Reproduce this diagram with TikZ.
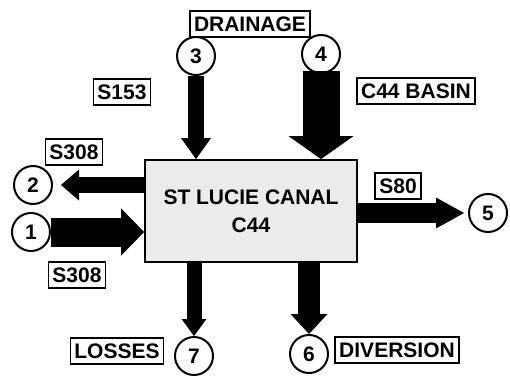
\documentclass[tikz,border=0pt]{standalone}
\usepackage{fontspec}
\setmainfont{Liberation Sans}
\usetikzlibrary{positioning, calc, arrows.meta}

\tikzset{
    lbl/.style={draw, line width=1.8pt, inner xsep=4pt, inner ysep=5.5pt,
        text height=14.5pt, text depth=0pt, font=\bfseries\fontsize{21}{22}\selectfont},
    num/.style={draw, circle, line width=2pt, minimum size=38pt, inner sep=0pt,
        fill=white, font=\bfseries\fontsize{21}{22}\selectfont},
    canal/.style={draw, line width=1.8pt, fill=black!8, minimum width=212pt,
        minimum height=102pt, align=center, font=\bfseries\fontsize{21}{28}\selectfont},
    flow/.style n args={3}{line width=#1,
        -{Triangle[width=#2, length=#3, line width=0pt]}}
}

\begin{document}
\begin{tikzpicture}[x=1pt, y=-1pt]
        \useasboundingbox (0,0) rectangle (510,379);

        % ==========================================
        % Canal (centre)
        % ==========================================
        \node[canal] (canal) at (251,211) {ST LUCIE CANAL\\C44};

        % ==========================================
        % Stations (numbered circles)
        % ==========================================
        \foreach \n/\x/\y in {1/31/232, 2/33/185, 3/196/56, 4/321/54,
                              5/488/213, 6/309/354, 7/194/356} {
            \node[num] (c\n) at (\x,\y) {\n};
        }

        % ==========================================
        % Labels
        % ==========================================
        \node[lbl] (drainage)  at (250,24)  {DRAINAGE};
        \node[lbl] (s153)      at (122,92)  {S153};
        \node[lbl] (basin)     at (416,91)  {C44 BASIN};
        \node[lbl] (s308out)   at (74,152)  {S308};
        \node[lbl] (s308in)    at (77,275)  {S308};
        \node[lbl] (s80)       at (398,186) {S80};
        \node[lbl] (losses)    at (117,351) {LOSSES};
        \node[lbl] (diversion) at (397,350) {DIVERSION};

        % ==========================================
        % Flows
        % ==========================================
        % Inflows
        \draw[flow={29pt}{47pt}{23pt}] (c1.east) -- (c1.east -| canal.west);
        \draw[flow={16pt}{30pt}{21pt}] (c3.south) -- (c3.south |- canal.north);
        \draw[flow={37pt}{65pt}{23pt}] ([yshift=3pt]c4.south) -- (c4.south |- canal.north);

        % Outflows
        \draw[flow={15pt}{31pt}{18pt}, shorten >=8pt] (canal.west |- c2.east) -- (c2.east);
        \draw[flow={20pt}{31pt}{28pt}, shorten >=4pt] (canal.east |- c5.west) -- (c5.west);
        \draw[flow={22pt}{37pt}{20pt}] (canal.south -| c6.north) -- (c6.north);
        \draw[flow={15pt}{25pt}{17pt}] (canal.south -| c7.north) -- (c7.north);

    \end{tikzpicture}
\end{document}
